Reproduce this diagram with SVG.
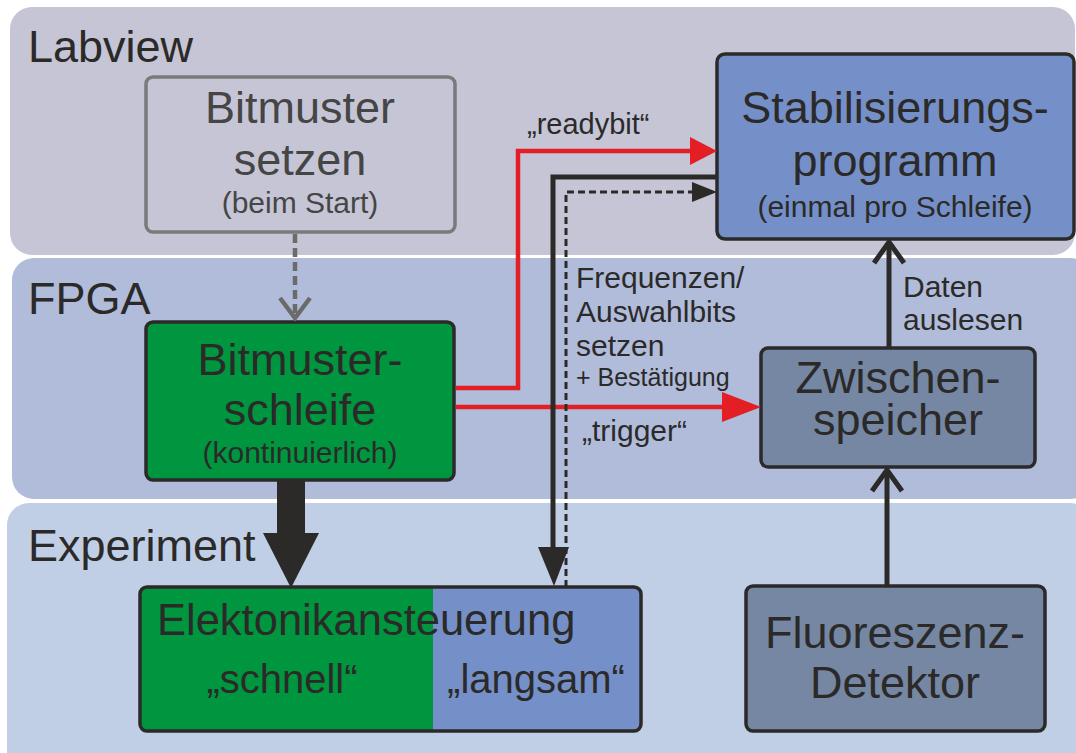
<svg xmlns="http://www.w3.org/2000/svg" width="1076" height="753" viewBox="0 0 1076 753">
<style>
text{font-family:"Liberation Sans",Arial,sans-serif;fill:#2b2a29}
.band{font-size:45px}
.big{font-size:45px;text-anchor:middle}
.small{font-size:30px;text-anchor:middle}
.lbl{font-size:30px}
.box{stroke:#2b2a29;stroke-width:3.5}
.red{fill:none;stroke:#e31e24;stroke-width:4.5}
.blk{fill:none;stroke:#2b2a29;stroke-width:5}
.chev{fill:none;stroke:#2b2a29;stroke-width:5;stroke-linejoin:miter}
</style>
<rect width="1076" height="753" fill="#ffffff"/>
<g id="bands">
<rect x="10" y="7" width="1065" height="248" rx="22" fill="#c5c5d6"/>
<rect x="12" y="258" width="1080" height="241" rx="22" fill="#b0bcda"/>
<rect x="7" y="503" width="1085" height="270" rx="22" fill="#c0cfe6"/>
<text class="band" x="28" y="62">Labview</text>
<text class="band" x="28" y="314">FPGA</text>
<text class="band" x="28" y="561">Experiment</text>
</g>
<g id="bitmuster-setzen">
<rect x="146" y="77" width="309" height="155" rx="7" fill="#c5c5d6" stroke="#7a7a7a" stroke-width="3.5"/>
<text class="big" x="300" y="123" style="fill:#454545">Bitmuster</text>
<text class="big" x="300" y="175" style="fill:#454545">setzen</text>
<text class="small" x="300" y="213" style="fill:#454545">(beim Start)</text>
</g>
<g id="bitmusterschleife">
<rect class="box" x="146" y="322" width="308" height="158" rx="7" fill="#00963f"/>
<text class="big" x="300" y="375">Bitmuster-</text>
<text class="big" x="300" y="425">schleife</text>
<text class="small" x="300" y="463">(kontinuierlich)</text>
</g>
<g id="stabilisierungsprogramm">
<rect class="box" x="717" y="54" width="357" height="185" rx="8" fill="#7590c8"/>
<text class="big" x="895" y="123">Stabilisierungs-</text>
<text class="big" x="895" y="176">programm</text>
<text class="small" x="895" y="217">(einmal pro Schleife)</text>
</g>
<g id="zwischenspeicher">
<rect class="box" x="761" y="348" width="274" height="119" rx="7" fill="#7587a3"/>
<text class="big" x="898" y="393">Zwischen-</text>
<text class="big" x="898" y="435">speicher</text>
</g>
<g id="fluoreszenz-detektor">
<rect class="box" x="746" y="586" width="299" height="145" rx="7" fill="#7587a3"/>
<text class="big" x="895" y="648">Fluoreszenz-</text>
<text class="big" x="895" y="698">Detektor</text>
</g>
<g id="elektronikansteuerung">
<path d="M433 587 H147 a7 7 0 0 0 -7 7 V724 a7 7 0 0 0 7 7 H433 Z" fill="#00963f"/>
<path d="M433 587 H634 a7 7 0 0 1 7 7 V724 a7 7 0 0 1 -7 7 H433 Z" fill="#7590c8"/>
<rect x="140" y="587" width="501" height="144" rx="7" fill="none" stroke="#2b2a29" stroke-width="3.5"/>
<text x="157" y="635" style="font-size:43.5px">Elektonikansteuerung</text>
<text x="282" y="693" style="font-size:40px;text-anchor:middle">„schnell“</text>
<text x="536" y="693" style="font-size:40px;text-anchor:middle">„langsam“</text>
</g>
<g id="connectors">
<!-- gray dashed -->
<line x1="295" y1="234" x2="295" y2="316" stroke="#6b6b6b" stroke-width="4.5" stroke-dasharray="9,5"/>
<polyline points="280,298 295,318 310,298" fill="none" stroke="#6b6b6b" stroke-width="4.5"/>
<!-- thick arrow -->
<rect x="277" y="480" width="28" height="55" fill="#2b2a29"/>
<polygon points="263,533 319,533 291,588" fill="#2b2a29"/>
<!-- readybit -->
<polyline class="red" points="456,388 518,388 518,151 695,151"/>
<polygon points="690,137 717,151 690,165" fill="#e31e24"/>
<!-- trigger -->
<line class="red" x1="456" y1="407" x2="726" y2="407"/>
<polygon points="722,392 761,407 722,422" fill="#e31e24"/>
<!-- black solid -->
<polyline class="blk" points="717,177 553,177 553,550"/>
<polygon points="538,547 569,547 554,586" fill="#2b2a29"/>
<!-- black dashed -->
<polyline points="566,587 566,192 696,192" fill="none" stroke="#2b2a29" stroke-width="3" stroke-dasharray="7,4"/>
<polygon points="692,182 717,192 692,202" fill="#2b2a29"/>
<!-- Daten auslesen -->
<line class="blk" x1="889" y1="348" x2="889" y2="243"/>
<polyline class="chev" points="874,263 889,242 904,263"/>
<!-- detector to zwischenspeicher -->
<line class="blk" x1="887" y1="586" x2="887" y2="471"/>
<polyline class="chev" points="872,491 887,470 902,491"/>
<text class="lbl" x="527" y="134" style="font-size:29px">„readybit“</text>
<text class="lbl" x="576" y="288">Frequenzen/</text>
<text class="lbl" x="576" y="322">Auswahlbits</text>
<text class="lbl" x="576" y="356">setzen</text>
<text x="576" y="386" style="font-size:25px">+ Bestätigung</text>
<text class="lbl" x="582" y="441">„trigger“</text>
<text class="lbl" x="903" y="297">Daten</text>
<text class="lbl" x="903" y="330">auslesen</text>
</g>
</svg>
